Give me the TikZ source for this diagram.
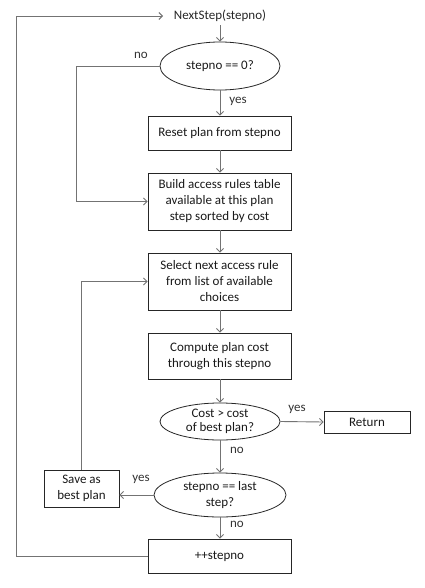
\documentclass[tikz,border=0pt]{standalone}
\usepackage{fontspec}
\setmainfont{Carlito}
\usetikzlibrary{shapes.geometric,arrows.meta}
\begin{document}
\begin{tikzpicture}[x=1pt,y=-1pt,
  font=\fontsize{13}{16}\selectfont,
  box/.style={draw=black!85, line width=0.8pt, align=center, inner sep=0pt, text=black!90},
  dec/.style={ellipse, draw=black!85, line width=0.8pt, align=center, inner sep=0pt, text=black!90},
  conn/.style={draw=black!55, line width=0.9pt, -{Straight Barb[length=3.5pt,width=7pt]}},
  lbl/.style={font=\fontsize{13}{14}\selectfont, text=black!80}]
\useasboundingbox (0,0) rectangle (424,588);
\node[text=black!85] (ns) at (220,16) {NextStep(stepno)};
\node[dec, minimum width=120, minimum height=48] (d1) at (220,66) {stepno == 0?};
\node[box, minimum width=143, minimum height=34] (reset) at (219.5,133) {Reset plan from stepno};
\node[box, minimum width=143, minimum height=57] (build) at (219.5,201.5) {Build access rules table\\available at this plan\\step sorted by cost};
\node[box, minimum width=143, minimum height=57] (select) at (219.5,281.5) {Select next access rule\\from list of available\\choices};
\node[box, minimum width=143, minimum height=46] (compute) at (219.5,356) {Compute plan cost\\through this stepno};
\node[dec, minimum width=120, minimum height=37, font=\fontsize{13}{14}\selectfont] (d2) at (220,421.5) {Cost > cost\\of best plan?};
\node[box, minimum width=86, minimum height=22] (ret) at (367,422) {Return};
\node[dec, minimum width=132, minimum height=44] (d3) at (220,495) {stepno == last\\step?};
\node[box, minimum width=75, minimum height=37] (save) at (81.5,488.5) {Save as\\best plan};
\node[box, minimum width=143, minimum height=34] (inc) at (219.5,556) {++stepno};
\coordinate (c1) at (76,66);
\coordinate (c2) at (16,556);
\coordinate (c3) at (16,16);
\coordinate (c4) at (163,16);
\draw[conn] (ns.south -| d1.north) -- (d1.north);
\draw[conn] (d1.south) -- (reset.north -| d1.south);
\draw[conn] (reset.south -| d1.south) -- (build.north -| d1.south);
\draw[conn] (build.south -| d1.south) -- (select.north -| d1.south);
\draw[conn] (select.south -| d1.south) -- (compute.north -| d1.south);
\draw[conn] (compute.south -| d1.south) -- (d2.north);
\draw[conn] (d2.south) -- (d3.north);
\draw[conn] (d3.south) -- (inc.north -| d3.south);
\draw[conn] (d2.east) -- (ret.west);
\draw[conn] (d3.west) -- (save.east |- d3.west);
\draw[conn] (d1.west) -- (c1) |- (build.west);
\draw[conn] (save.north) |- (select.west);
\draw[conn] (inc.west) -- (c2) -- (c3) -- (c4);
\node[lbl] at (141,55) {no};
\node[lbl] at (238,101) {yes};
\node[lbl] at (297,409) {yes};
\node[lbl] at (237,450) {no};
\node[lbl] at (141,479) {yes};
\node[lbl] at (237,524) {no};
\end{tikzpicture}
\end{document}
